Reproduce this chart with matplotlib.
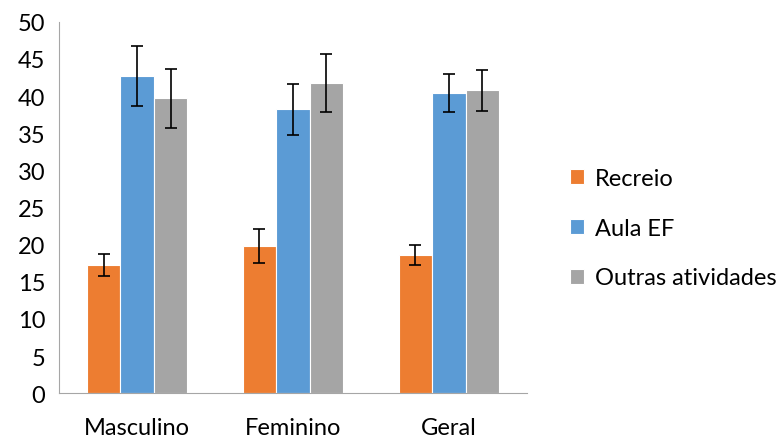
import numpy as np
import matplotlib
matplotlib.use('Agg')
import matplotlib.pyplot as plt

categories = ['Masculino', 'Feminino', 'Geral']
series = ['Recreio', 'Aula EF', 'Outras atividades']
recreio = [17.3, 19.8, 18.6]
aula_ef = [42.7, 38.2, 40.4]
outras = [39.7, 41.7, 40.8]
recreio_err = [1.5, 2.25, 1.4]
aula_ef_err = [4.1, 3.4, 2.6]
outras_err = [4.0, 3.9, 2.75]

colors = ['#ED7D31', '#5B9BD5', '#A5A5A5']
values = [recreio, aula_ef, outras]
errors = [recreio_err, aula_ef_err, outras_err]

plt.rcParams['font.family'] = ['Lato', 'DejaVu Sans']

fig = plt.figure(figsize=(7.83, 4.39), dpi=100)
ax = fig.add_axes([0.0757, 0.1018, 0.597, 0.8464])

x = np.arange(len(categories))
w = 0.215
for i, (name, vals, errs, c) in enumerate(zip(series, values, errors, colors)):
    ax.bar(x + (i - 1) * w, vals, w, color=c, edgecolor='white', linewidth=0.8,
           label=name, yerr=errs,
           error_kw=dict(ecolor='black', elinewidth=1.2, capsize=4.3, capthick=1.2))

ax.set_xlim(-0.5, 2.5)
ax.set_ylim(0, 50)
ax.set_yticks(np.arange(0, 51, 5))
ax.set_xticks(x)
ax.set_xticklabels(categories)
ax.tick_params(axis='both', length=0, labelsize=17)
ax.tick_params(axis='x', pad=17)
ax.tick_params(axis='y', pad=10)
for s in ['top', 'right']:
    ax.spines[s].set_visible(False)
ax.spines['left'].set_color('#A6A6A6')
ax.spines['bottom'].set_color('#A6A6A6')

fig.legend(loc='center left', bbox_to_anchor=(0.728, 0.478), frameon=False,
           fontsize=17, handlelength=0.6, handleheight=0.6, handletextpad=0.45,
           labelspacing=1.22, borderpad=0, borderaxespad=0)

fig.savefig('out.png', dpi=100)
